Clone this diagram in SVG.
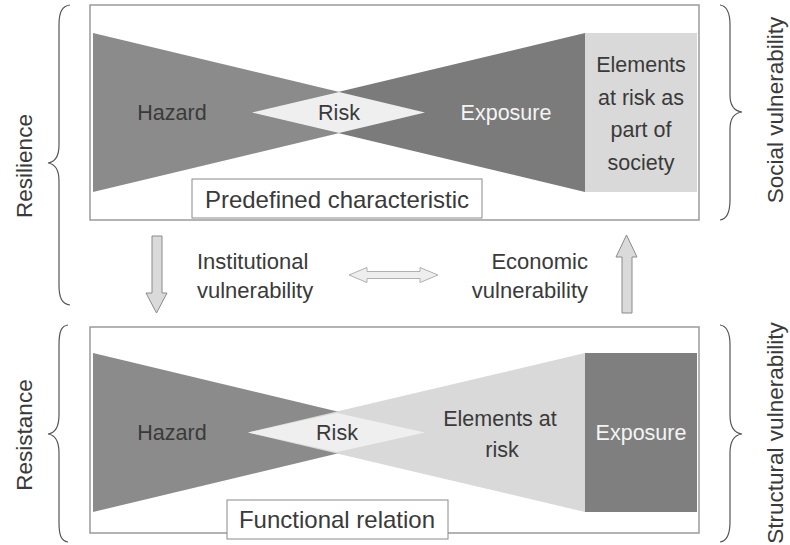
<svg xmlns="http://www.w3.org/2000/svg" width="790" height="545" viewBox="0 0 790 545">
<style>
text{font-family:"Liberation Sans",Arial,sans-serif;fill:#3a3a3a}
.t{font-size:21.5px}
.m{font-size:22px}
.c{text-anchor:middle}
.side{font-size:22.5px;text-anchor:middle}
.lbl{font-size:24px}
.frame{fill:#fff;stroke:#9a9a9a;stroke-width:1.5}
.box{fill:#fff;stroke:#8a8a8a;stroke-width:1}
.brace{fill:none;stroke:#555;stroke-width:1.2}
.arr{fill:#dadada;stroke:#8a8a8a;stroke-width:1}
.arr2{fill:#eeeeee;stroke:#b0b0b0;stroke-width:1}
.w{fill:#f4f4f4}
</style>
<rect width="790" height="545" fill="#fff"/>
<g id="braces">
<path class="brace" d="M70,5 C62,6 59,12 59,25 L59,145 C59,156 55,162 48,163 C55,164 59,170 59,181 L59,285 C59,298 62,304 70,305"/>
<path class="brace" d="M68,325 C61,326 59,332 59,345 L59,415 C59,427 55,433 48,434 C55,435 59,441 59,453 L59,522 C59,535 61,541 68,542"/>
<path class="brace" d="M720,5 C727,6 730,12 730,25 L730,95 C730,106 734,111 742,112 C734,113 730,118 730,129 L730,200 C730,213 727,219 720,220"/>
<path class="brace" d="M720,325 C727,326 730,332 730,345 L730,415 C730,427 734,433 742,434 C734,435 730,441 730,453 L730,522 C730,535 727,541 720,542"/>
<text class="side" transform="translate(32,166) rotate(-90)">Resilience</text>
<text class="side" transform="translate(32,435) rotate(-90)">Resistance</text>
<text class="side" transform="translate(783,110) rotate(-90)">Social vulnerability</text>
<text class="side" transform="translate(783,433) rotate(-90)">Structural vulnerability</text>
</g>
<g id="top-panel">
<rect class="frame" x="90" y="5" width="609" height="215"/>
<polygon points="93,33 93,192 425,112.5" fill="#8b8b8b"/>
<polygon points="585,33 585,192 252,112.5" fill="#7b7b7b"/>
<polygon points="252,112.5 339,92 425,112.5 339,133" fill="#efefef"/>
<rect x="585" y="33" width="112" height="159" fill="#d9d9d9"/>
<text class="t c" x="172" y="120">Hazard</text>
<text class="t c" x="339" y="120">Risk</text>
<text class="t c w" x="506" y="120">Exposure</text>
<text class="t c" x="641" y="72">Elements</text>
<text class="t c" x="641" y="104.5">at risk as</text>
<text class="t c" x="641" y="137">part of</text>
<text class="t c" x="641" y="169.5">society</text>
<g id="label-top">
<rect class="box" x="192" y="179" width="290" height="39"/>
<text class="lbl c" x="337" y="208">Predefined characteristic</text>
</g>
</g>
<g id="bottom-panel">
<rect class="frame" x="90" y="327" width="609" height="206"/>
<polygon points="93,353 93,512 425,432.5" fill="#8b8b8b"/>
<polygon points="585,353 585,512 248,432.5" fill="#d9d9d9"/>
<polygon points="248,432.5 337,413 425,432.5 337,452" fill="#efefef"/>
<rect x="585" y="353" width="112" height="159" fill="#7f7f7f"/>
<text class="t c" x="172" y="440">Hazard</text>
<text class="t c" x="337" y="440">Risk</text>
<text class="t c" x="500" y="426">Elements at</text>
<text class="t c" x="502" y="457">risk</text>
<text class="t c w" x="641" y="440">Exposure</text>
<g id="label-bottom">
<rect class="box" x="227" y="500" width="221" height="39"/>
<text class="lbl c" x="337" y="528">Functional relation</text>
</g>
</g>
<g id="middle">
<text class="m" x="197" y="269">Institutional</text>
<text class="m" x="197" y="298">vulnerability</text>
<text class="m" x="588" y="269" text-anchor="end">Economic</text>
<text class="m" x="588" y="298" text-anchor="end">vulnerability</text>
</g>
<g id="connectors">
<polygon class="arr" points="152,236 162,236 162,293 167,293 156.5,313 146,293 152,293"/>
<polygon class="arr" points="622,313 632,313 632,257 637,257 626.5,235 616,257 622,257"/>
<polygon class="arr2" points="349,275 367,267.5 367,271.5 420,271.5 420,267.5 438,275 420,282.5 420,278.5 367,278.5 367,282.5"/>
</g>
</svg>
